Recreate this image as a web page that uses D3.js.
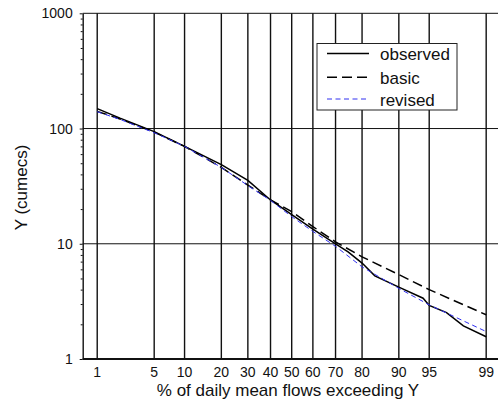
<!DOCTYPE html>
<html><head><meta charset="utf-8">
<script src="https://cdn.jsdelivr.net/npm/d3@7"></script>
<style>body{margin:0;background:#fff;}svg{display:block;font-family:"Liberation Sans",Arial,sans-serif;}</style>
</head><body>
<script>
const xTicks = [1,5,10,20,30,40,50,60,70,80,90,95,99];
const yTicks = [1,10,100,1000];
const obsP = [1,2,5,10,20,30,40,50,60,70,75,80,84,90,94.2,95,96.8,98,99];
const obsV = [149,123,94,70,48.6,35.5,24.0,17.9,13.4,10.0,8.5,6.8,5.27,4.2,3.37,2.92,2.53,1.94,1.56];
const basP = [1,2,5,10,20,30,40,50,60,70,80,90,95,99];
const basV = [141,121,93,70,46,32.3,24.0,19.0,14.1,10.4,7.7,5.4,4.0,2.42];
const revP = [1,2,5,10,20,30,40,50,60,70,80,90,95,99];
const revV = [140,120,92,70,46,32,23.8,17.2,12.8,9.5,6.3,4.1,2.95,1.73];
const legendItems = ["observed","basic","revised"];

function probit(p){
  const a=[-3.969683028665376e+01,2.209460984245205e+02,-2.759285104469687e+02,1.383577518672690e+02,-3.066479806614716e+01,2.506628277459239e+00];
  const b=[-5.447609879822406e+01,1.615858368580409e+02,-1.556989798598866e+02,6.680131188771972e+01,-1.328068155288572e+01];
  const c=[-7.784894002430293e-03,-3.223964580411365e-01,-2.400758277161838e+00,-2.549732539343734e+00,4.374664141464968e+00,2.938163982698783e+00];
  const d=[7.784695709041462e-03,3.224671290700398e-01,2.445134137142996e+00,3.754408661907416e+00];
  const pl=0.02425;let q,r;
  if(p<pl){q=Math.sqrt(-2*Math.log(p));return (((((c[0]*q+c[1])*q+c[2])*q+c[3])*q+c[4])*q+c[5])/((((d[0]*q+d[1])*q+d[2])*q+d[3])*q+1);}
  if(p>1-pl){q=Math.sqrt(-2*Math.log(1-p));return -(((((c[0]*q+c[1])*q+c[2])*q+c[3])*q+c[4])*q+c[5])/((((d[0]*q+d[1])*q+d[2])*q+d[3])*q+1);}
  q=p-0.5;r=q*q;return (((((a[0]*r+a[1])*r+a[2])*r+a[3])*r+a[4])*r+a[5])*q/(((((b[0]*r+b[1])*r+b[2])*r+b[3])*r+b[4])*r+1);
}

const W=498,H=403;
const L=82.7,R=500.7,T=13.3,B=359;
const zs=d3.scaleLinear().domain([-2.5,2.5]).range([L,R]);
const x=p=>zs(probit(p/100));
const y=d3.scaleLog().domain([1,1000]).range([B,T]);

const svg=d3.select("body").append("svg").attr("width",W).attr("height",H);

// vertical grid
svg.append("g").selectAll("line").data(xTicks).join("line")
  .attr("x1",d=>x(d)).attr("x2",d=>x(d)).attr("y1",T).attr("y2",B)
  .attr("stroke","#111").attr("stroke-width",1.4);
// horizontal grid
svg.append("g").selectAll("line").data(yTicks).join("line")
  .attr("x1",L).attr("x2",R).attr("y1",d=>y(d)).attr("y2",d=>y(d))
  .attr("stroke","#111").attr("stroke-width",d=>d===1?2:1);

// y axis
const yAxis=d3.axisLeft(y).tickValues(d3.range(0,3).flatMap(e=>d3.range(1,10).map(m=>m*Math.pow(10,e))).concat([1000]))
  .tickFormat(d=>yTicks.includes(d)?String(d):"")
  .tickSize(2).tickSizeOuter(0);
const ga=svg.append("g").attr("transform",`translate(${L},0)`).call(yAxis);
ga.select(".domain").attr("stroke","#111").attr("stroke-width",1.4);
ga.selectAll(".tick line").attr("stroke","#111").attr("x2",d=>yTicks.includes(d)?-3:-2);
ga.selectAll(".tick text").attr("font-size",14).attr("font-family","Liberation Sans, Arial, sans-serif").attr("fill","#111").attr("x",-10);

// x tick labels
svg.append("g").selectAll("text").data(xTicks).join("text")
  .attr("x",d=>x(d)).attr("y",B+18).attr("text-anchor","middle")
  .attr("font-size",14).attr("fill","#111").text(d=>d);

// axis titles
svg.append("text").attr("x",288).attr("y",396).attr("text-anchor","middle").attr("font-size",17).attr("fill","#111").text("% of daily mean flows exceeding Y");
svg.append("text").attr("transform",`translate(27,187.5) rotate(-90)`).attr("text-anchor","middle").attr("font-size",17).attr("fill","#111").text("Y (cumecs)");

const line=d3.line().x(d=>x(d[0])).y(d=>y(d[1]));
svg.append("path").datum(obsP.map((p,i)=>[p,obsV[i]])).attr("d",line).attr("fill","none").attr("stroke","#000").attr("stroke-width",1.5);
svg.append("path").datum(basP.map((p,i)=>[p,basV[i]])).attr("d",line).attr("fill","none").attr("stroke","#000").attr("stroke-width",1.5).attr("stroke-dasharray","10,5");
svg.append("path").datum(revP.map((p,i)=>[p,revV[i]])).attr("d",line).attr("fill","none").attr("stroke","#3030f0").attr("stroke-width",1).attr("stroke-dasharray","5,3.5");

// legend
const lg=svg.append("g");
lg.append("rect").attr("x",317).attr("y",43.5).attr("width",140).attr("height",66.5).attr("fill","#fff").attr("stroke","#222").attr("stroke-width",1);
const styles=[{c:"#000",w:1.5,d:null},{c:"#000",w:1.5,d:"10,5"},{c:"#3030f0",w:1,d:"5,3.5"}];
const rowY=[53.5,77.3,99];
legendItems.forEach((t,i)=>{
  lg.append("line").attr("x1",327).attr("x2",369).attr("y1",rowY[i]).attr("y2",rowY[i])
    .attr("stroke",styles[i].c).attr("stroke-width",styles[i].w).attr("stroke-dasharray",styles[i].d);
  lg.append("text").attr("x",380).attr("y",rowY[i]+6.5).attr("font-size",17).attr("fill","#111").text(t);
});
</script>
</body></html>
